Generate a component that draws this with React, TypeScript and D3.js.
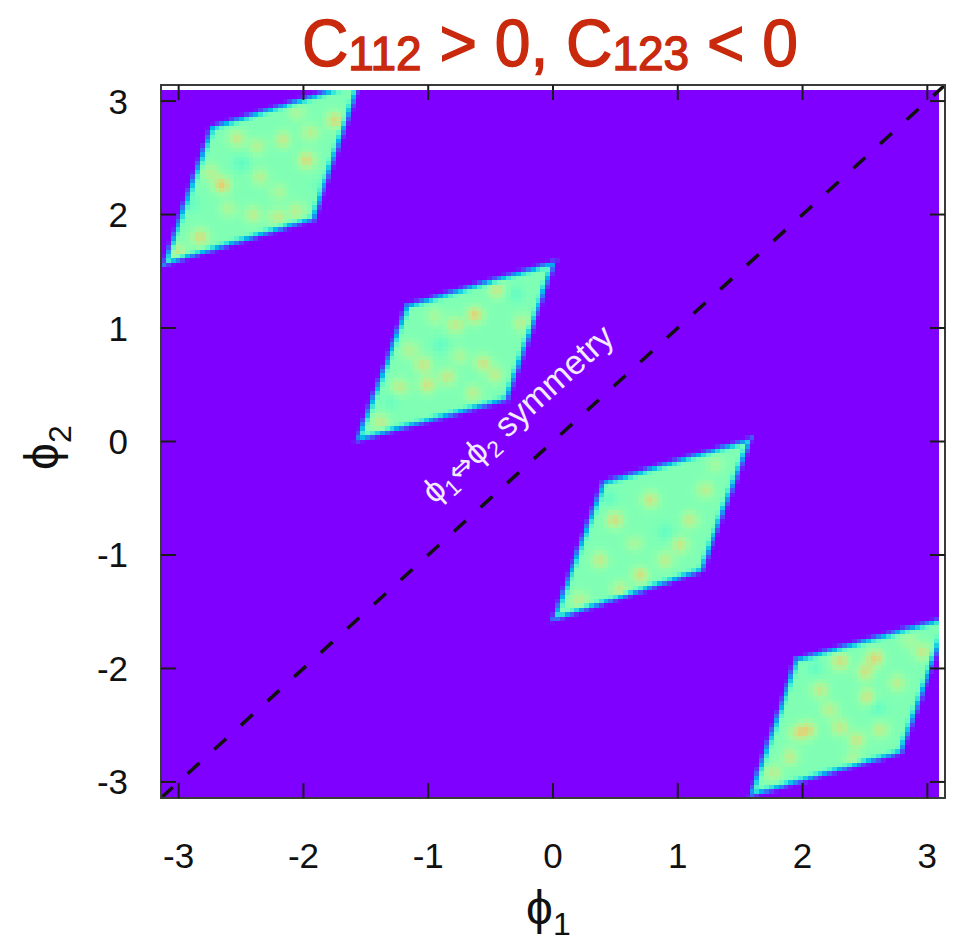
import React, { useMemo } from "react";
import * as d3 from "d3";

const WIDTH = 957;
const HEIGHT = 943;
const PI = Math.PI;

const xTicks = [-3, -2, -1, 0, 1, 2, 3];
const yTicks = [-3, -2, -1, 0, 1, 2, 3];

// Allowed regions in the (ϕ1, ϕ2) plane: convex quadrilaterals, vertices as [ϕ1, ϕ2]
const regionUpperLeft: [number, number][] = [[-3.10, 1.58], [-2.73, 2.76], [-1.57, 3.15], [-1.93, 1.97]];
const regionCentreLeft: [number, number][] = [[-1.55, 0.03], [-1.16, 1.19], [-0.01, 1.56], [-0.38, 0.38]];
const regionCentreRight: [number, number][] = [[0.02, -1.55], [0.41, -0.37], [1.56, 0.0], [1.18, -1.13]];
const regionLowerRight: [number, number][] = [[1.60, -3.10], [1.96, -1.93], [3.15, -1.57], [2.78, -2.73]];

// Local density excess inside the regions: [ϕ1, ϕ2, height]
const peaksUpperLeft: [number, number, number][] = [
  [-2.655, 2.26, 0.2], [-1.974, 2.48, 0.17], [-1.747, 2.83, 0.17], [-2.163, 2.66, 0.13],
  [-2.534, 2.67, 0.13], [-2.831, 1.80, 0.16], [-2.404, 2.0, 0.12], [-2.212, 1.98, 0.12],
  [-3.01, 1.67, 0.13], [-2.054, 2.03, 0.11], [-2.348, 2.33, 0.1], [-2.75, 2.37, 0.1],
  [-2.374, 2.60, 0.1], [-1.947, 2.72, 0.11], [-2.5, 2.45, -0.06], [-2.9, 2.1, -0.05],
  [-2.2, 2.2, 0.08], [-2.6, 2.05, 0.08], [-1.85, 2.25, -0.05], [-2.05, 2.9, 0.08],
];
const peaksCentreLeft: [number, number, number][] = [
  [-0.625, 1.115, 0.18], [-0.785, 1.026, 0.13], [-1.042, 0.674, 0.14], [-0.561, 0.692, 0.14],
  [-1.01, 0.498, 0.15], [-1.226, 0.48, 0.12], [-1.386, 0.172, 0.12], [-0.449, 1.335, 0.13],
  [-0.248, 1.044, 0.11], [-0.849, 0.568, 0.13], [-0.465, 0.586, 0.11], [-1.146, 0.806, 0.1],
  [-0.641, 0.427, 0.11], [-0.9, 0.85, -0.05], [-0.3, 1.3, -0.05], [-0.75, 0.75, 0.08],
  [-1.3, 0.35, -0.04], [-0.95, 1.1, 0.08],
];
const peaksCentreRight: [number, number, number][] = [
  [0.497, -0.692, 0.16], [0.777, -0.515, 0.15], [1.018, -0.912, 0.14], [0.377, -1.044, 0.13],
  [0.697, -1.176, 0.15], [1.098, -0.692, 0.12], [0.537, -1.308, 0.12], [0.897, -1.044, 0.11],
  [0.216, -1.396, 0.11], [1.218, -0.427, 0.11], [0.9, -0.8, -0.05], [0.45, -0.5, -0.05],
  [0.65, -0.9, 0.08], [1.3, -0.2, 0.07],
];
const peaksLowerRight: [number, number, number][] = [
  [2.30, -1.94, 0.16], [2.58, -1.91, 0.18], [2.50, -2.03, 0.15], [2.14, -2.19, 0.13],
  [2.516, -2.25, 0.14], [2.043, -2.54, 0.15], [1.963, -2.57, 0.14], [2.30, -2.52, 0.13],
  [2.436, -2.63, 0.14], [1.90, -2.78, 0.12], [2.957, -1.855, 0.13], [2.756, -2.128, 0.12],
  [2.62, -2.54, 0.11], [2.22, -2.366, 0.11], [1.763, -2.92, 0.11], [2.6, -2.35, -0.05],
  [2.1, -2.0, -0.05], [2.4, -2.8, 0.08], [2.85, -1.75, 0.07],
];

const regions = [regionUpperLeft, regionCentreLeft, regionCentreRight, regionLowerRight];
const peaks = [...peaksUpperLeft, ...peaksCentreLeft, ...peaksCentreRight, ...peaksLowerRight];

// plot frame (pixels)
const LEFT = 161;
const RIGHT = 945;
const TOP = 85;
const BOTTOM = 798;
const GRID_MAX = 3.095; // last binned value on both axes
const N_CELLS = 160;

const FONT = "'Liberation Sans', Arial, Helvetica, sans-serif";
const GREEK = "'Liberation Sans', 'DejaVu Sans', sans-serif";

// matplotlib "rainbow" colormap
function rainbow(t: number): string {
  const v = Math.max(0, Math.min(1, t));
  const r = Math.min(1, Math.abs(2 * v - 0.5));
  const g = Math.sin(PI * v);
  const b = Math.cos((PI * v) / 2);
  return d3.rgb(r * 255, g * 255, b * 255).formatHex();
}

function signedDistance(px: number, py: number, poly: [number, number][]): number {
  let area = 0;
  for (let i = 0; i < poly.length; i++) {
    const a = poly[i];
    const b = poly[(i + 1) % poly.length];
    area += a[0] * b[1] - b[0] * a[1];
  }
  const s = area > 0 ? 1 : -1;
  let d = Infinity;
  for (let i = 0; i < poly.length; i++) {
    const a = poly[i];
    const b = poly[(i + 1) % poly.length];
    const ex = b[0] - a[0];
    const ey = b[1] - a[1];
    const len = Math.hypot(ex, ey);
    const c = ((ex * (py - a[1]) - ey * (px - a[0])) / len) * s;
    d = Math.min(d, c);
  }
  return d;
}

function smoothstep(e0: number, e1: number, x: number) {
  const t = Math.max(0, Math.min(1, (x - e0) / (e1 - e0)));
  return t * t * (3 - 2 * t);
}

export default function App() {
  const x = d3.scaleLinear().domain([-PI, PI]).range([LEFT, RIGHT]);
  const y = d3.scaleLinear().domain([-PI, PI]).range([BOTTOM, TOP]);

  const cells = useMemo(() => {
    const polysPx = regions.map((r) => r.map(([a, b]) => [x(a), y(b)] as [number, number]));
    const peaksPx = peaks.map(([a, b, h]) => [x(a), y(b), h]);
    const x0 = x(-PI);
    const x1 = x(GRID_MAX);
    const y0 = y(-PI);
    const y1 = y(GRID_MAX);
    const cw = (x1 - x0) / N_CELLS;
    const ch = (y0 - y1) / N_CELLS;
    const sigma2 = 2 * 6 * 6;
    const out: { x: number; y: number; w: number; h: number; fill: string }[] = [];
    for (let i = 0; i < N_CELLS; i++) {
      for (let j = 0; j < N_CELLS; j++) {
        const cx = x0 + (i + 0.5) * cw;
        const cy = y1 + (j + 0.5) * ch;
        let d = -Infinity;
        for (const p of polysPx) d = Math.max(d, signedDistance(cx, cy, p));
        const base = 0.5 * smoothstep(-6, 5, d);
        let v = base;
        if (base > 0) {
          let extra = 0;
          for (const [px, py, h] of peaksPx) {
            const r2 = (cx - px) ** 2 + (cy - py) ** 2;
            if (r2 < 900) extra += h * Math.exp(-r2 / sigma2);
          }
          v = base + (base / 0.5) * extra;
        }
        out.push({ x: x0 + i * cw, y: y1 + j * ch, w: cw + 0.05, h: ch + 0.05, fill: rainbow(v) });
      }
    }
    return out;
  }, []);

  const angle = (Math.atan2(y(PI) - y(-PI), x(PI) - x(-PI)) * 180) / PI;
  const annot = [x(-0.95), y(-0.56)];

  return (
    <svg
      width={WIDTH}
      height={HEIGHT}
      viewBox={`0 0 ${WIDTH} ${HEIGHT}`}
      style={{ position: "absolute", left: 0, top: 0, background: "#fff" }}
    >
      <rect x={0} y={0} width={WIDTH} height={HEIGHT} fill="#fff" />
      <g shapeRendering="crispEdges">
        {cells.map((c, k) => (
          <rect key={k} x={c.x} y={c.y} width={c.w} height={c.h} fill={c.fill} />
        ))}
      </g>

      {/* ϕ1 <-> ϕ2 diagonal */}
      <line
        x1={x(-PI)}
        y1={y(-PI)}
        x2={x(PI)}
        y2={y(PI)}
        stroke="#111"
        strokeWidth={3.5}
        strokeDasharray="16 20"
      />
      <text
        transform={`translate(${annot[0]},${annot[1]}) rotate(${angle})`}
        fontSize={34}
        fill="#f3eaff"
        fontFamily={GREEK}
      >
        ϕ<tspan fontSize={23} dy={7}>1</tspan>
        <tspan dy={-7} fontFamily="'DejaVu Sans', sans-serif" fontSize={30}>⇔</tspan>
        <tspan>ϕ</tspan>
        <tspan fontSize={23} dy={7}>2</tspan>
        <tspan dy={-7}> symmetry</tspan>
      </text>

      {/* frame and ticks */}
      <rect x={LEFT} y={TOP} width={RIGHT - LEFT} height={BOTTOM - TOP} fill="none" stroke="#3a3a3a" strokeWidth={2} />
      <g stroke="#1a1a1a" strokeWidth={2}>
        {xTicks.map((t) => (
          <g key={`xt${t}`}>
            <line x1={x(t)} x2={x(t)} y1={BOTTOM} y2={BOTTOM - 15} />
            <line x1={x(t)} x2={x(t)} y1={TOP} y2={TOP + 15} />
          </g>
        ))}
        {yTicks.map((t) => (
          <g key={`yt${t}`}>
            <line x1={LEFT} x2={LEFT + 15} y1={y(t)} y2={y(t)} />
            <line x1={RIGHT} x2={RIGHT - 15} y1={y(t)} y2={y(t)} />
          </g>
        ))}
      </g>

      {/* tick labels */}
      <g fontFamily={FONT} fontSize={35} fill="#111">
        {xTicks.map((t) => (
          <text key={`xl${t}`} x={x(t)} y={868} textAnchor="middle">
            {t}
          </text>
        ))}
        {yTicks.map((t) => (
          <text key={`yl${t}`} x={128} y={y(t) + 12.5} textAnchor="end">
            {t}
          </text>
        ))}
      </g>

      {/* axis titles */}
      <text x={526} y={924} fontSize={48} fontFamily={GREEK} fill="#111">
        ϕ<tspan fontSize={32} dy={11}>1</tspan>
      </text>
      <text transform="translate(58,470) rotate(-90)" fontSize={48} fontFamily={GREEK} fill="#111">
        ϕ<tspan fontSize={32} dy={13}>2</tspan>
      </text>

      {/* title */}
      <text
        x={302}
        y={66}
        fontSize={67}
        fontFamily={FONT}
        fill="#c9290c"
        stroke="#c9290c"
        strokeWidth={1.4}
        textLength={496}
        lengthAdjust="spacingAndGlyphs"
      >
        C<tspan fontSize={48} dy={4}>112</tspan>
        <tspan dy={-4}> &gt; 0, C</tspan>
        <tspan fontSize={48} dy={4}>123</tspan>
        <tspan dy={-4}> &lt; 0</tspan>
      </text>
    </svg>
  );
}
